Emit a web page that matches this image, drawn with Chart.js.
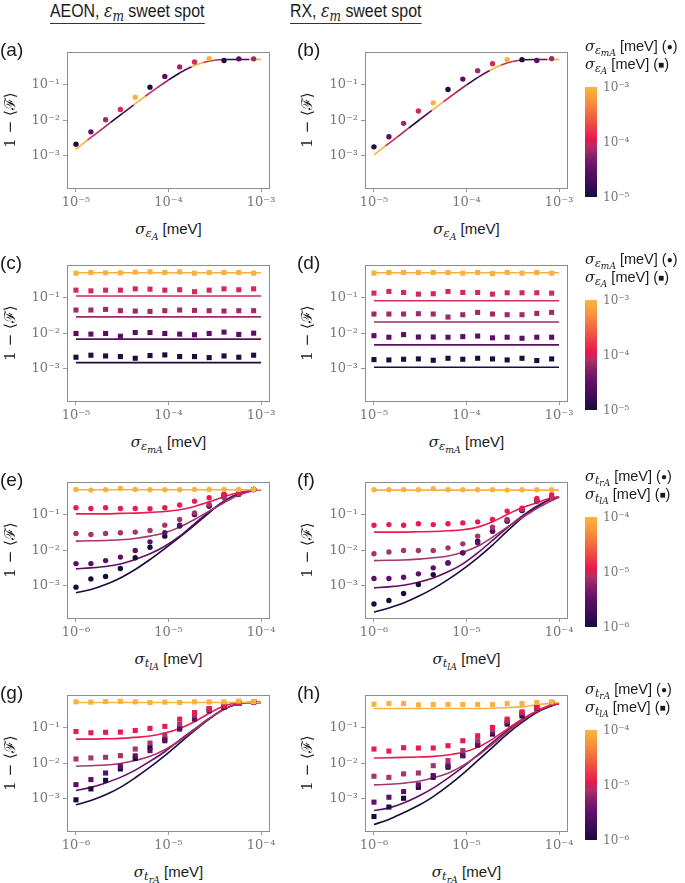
<!DOCTYPE html>
<html>
<head>
<meta charset="utf-8">
<script src="https://cdn.jsdelivr.net/npm/chart.js@4.4.1/dist/chart.umd.min.js"></script>
<style>
body { margin:0; background:#fff; width:685px; height:883px; position:relative; overflow:hidden;
  font-family:'Liberation Sans', Arial, sans-serif; color:#1a1a1a; }
canvas, .abs { position:absolute; }
.hdr { font-size:18.5px; transform:scaleX(0.86); transform-origin:0 0; border-bottom:1.5px solid #333; padding-bottom:1px; white-space:nowrap; }
.lab { font-size:19px; }
.m { font-family:'DejaVu Serif', serif; font-style:italic; }
sub { font-size:76%; vertical-align:-0.3em; line-height:0; }
sub sub { font-size:82%; vertical-align:-0.25em; }
.xt { font-size:15px; white-space:nowrap; transform:translate(-50%,-50%); }
.yt { font-family:'DejaVu Serif', serif; font-size:15px; white-space:nowrap; transform:translate(-50%,-50%) rotate(-90deg); }
.leg { font-size:14.5px; white-space:nowrap; }
.sym { font-size:10px; vertical-align:1px; }
.cb { width:12px; height:110px;
  background:linear-gradient(to top, #1a0b3c 0%, #3b0c5a 12%, #5e0f66 25%, #86206a 37%, #b52e63 46%,
    #e3194f 52%, #ec3a45 62%, #f26a3d 75%, #f7923e 87%, #fbb540 100%); }
.cbl { font-family:'DejaVu Serif', serif; font-size:12px; color:#777; transform:translateY(-50%); white-space:nowrap; }
</style>
</head>
<body>
<script>
// ---- data ----
const xDots5 = [1e-5,1.45e-5,2.09e-5,3.02e-5,4.37e-5,6.31e-5,9.12e-5,1.32e-4,1.91e-4,2.75e-4,3.98e-4,5.75e-4,8.32e-4];
const xDots6 = [1e-6,1.45e-6,2.09e-6,3.02e-6,4.37e-6,6.31e-6,9.12e-6,1.32e-5,1.91e-5,2.75e-5,3.98e-5,5.75e-5,8.32e-5];
const xCurve5 = [1e-5,1.33e-5,1.78e-5,2.37e-5,3.16e-5,4.22e-5,5.62e-5,7.5e-5,1e-4,1.33e-4,1.78e-4,2.37e-4,3.16e-4,4.22e-4,5.62e-4,7.5e-4,1e-3];
const xCurve6 = [1e-6,1.45e-6,2.09e-6,3.02e-6,4.37e-6,6.31e-6,9.12e-6,1.32e-5,1.91e-5,2.75e-5,3.98e-5,5.75e-5,8.32e-5,1e-4];
const xFlat5 = [1e-5, 1e-3];

const xTicks5 = [1e-5, 1e-4, 1e-3];
const xTicks6 = [1e-6, 1e-5, 1e-4];
const yTicks = [1e-3, 1e-2, 1e-1];
const cbTicks5 = ['10⁻³', '10⁻⁴', '10⁻⁵'];
const cbTicks6 = ['10⁻⁴', '10⁻⁵', '10⁻⁶'];

// (a)
const aDots = [2.13e-3,4.7e-3,1.03e-2,1.98e-2,4.4e-2,8.4e-2,0.168,0.31,0.425,0.53,0.47,0.52,0.52];
const aCurve = [1.55e-3,2.75e-3,4.88e-3,8.64e-3,1.53e-2,2.68e-2,4.67e-2,8.0e-2,0.133,0.212,0.312,0.413,0.478,0.498,0.5,0.5,0.5];
// (b)
const bDots = [1.79e-3,3.43e-3,8.15e-3,1.81e-2,3.05e-2,7.2e-2,0.141,0.243,0.382,0.495,0.495,0.47,0.53];
const bCurve = [1.07e-3,1.9e-3,3.37e-3,5.98e-3,1.06e-2,1.87e-2,3.27e-2,5.67e-2,9.63e-2,0.158,0.246,0.35,0.441,0.489,0.499,0.5,0.5];
// (c)  rows: yellow, red, magenta, purple, dark
const cYellow = [0.478,0.499,0.488,0.488,0.51,0.52,0.499,0.52,0.478,0.499,0.499,0.499,0.478];
const cRed = [0.160,0.153,0.160,0.160,0.174,0.171,0.160,0.164,0.145,0.160,0.174,0.164,0.174];
const cMagenta = [0.0444,0.0444,0.0463,0.0425,0.0416,0.0407,0.0425,0.0444,0.0434,0.0425,0.0416,0.0425,0.0425];
const cPurple = [0.0098,0.0094,0.0098,0.0082,0.0104,0.0104,0.0098,0.0094,0.0090,0.0098,0.0107,0.0092,0.0100];
const cDark = [2.12e-3,2.41e-3,2.30e-3,2.21e-3,1.98e-3,2.36e-3,2.46e-3,2.21e-3,2.21e-3,2.07e-3,2.30e-3,2.12e-3,2.41e-3];
const cLevels = [0.49, 0.11, 0.0286, 0.0068, 0.0015];
// (d)
const dYellow = [0.478,0.499,0.499,0.499,0.499,0.499,0.478,0.499,0.468,0.499,0.478,0.499,0.478];
const dRed = [0.132,0.147,0.138,0.124,0.127,0.147,0.138,0.138,0.124,0.135,0.135,0.135,0.132];
const dMagenta = [0.0343,0.0343,0.0343,0.0350,0.0343,0.0282,0.0328,0.0381,0.0343,0.0328,0.0328,0.0358,0.0381];
const dPurple = [0.0085,0.0077,0.0091,0.0078,0.0078,0.0077,0.0080,0.0083,0.0074,0.0077,0.0072,0.0077,0.0077];
const dDark = [1.82e-3,1.78e-3,1.86e-3,1.90e-3,1.74e-3,1.98e-3,1.86e-3,1.98e-3,1.90e-3,1.78e-3,1.98e-3,1.71e-3,1.90e-3];
const dLevels = [0.49, 0.081, 0.0205, 0.0047, 0.00111];
// (e)
const eYellow = [0.502,0.48,0.49,0.535,0.502,0.49,0.49,0.49,0.502,0.502,0.502,0.502,0.502];
const eRed = [0.154,0.147,0.154,0.147,0.147,0.144,0.154,0.183,0.236,0.293,0.364,0.40,0.50];
const eMagenta = [0.0293,0.0275,0.0293,0.0306,0.0320,0.0356,0.0502,0.0724,0.111,0.19,0.293,0.379,0.50];
const ePurple = [4.2e-3,4.2e-3,5.1e-3,6.4e-3,9.8e-3,0.0171,0.0306,0.0502,0.1,0.171,0.313,0.364,0.5];
const eDark = [9.2e-4,1.57e-3,1.83e-3,3.06e-3,6.1e-3,0.0121,0.0247,0.0471,0.1,0.171,0.364,0.379,0.5];
const eYellowC = [0.49,0.49,0.49,0.49,0.49,0.49,0.49,0.49,0.49,0.49,0.49,0.49,0.49,0.49];
const eRedC = [0.104,0.104,0.104,0.107,0.109,0.114,0.121,0.135,0.168,0.227,0.313,0.41,0.48,0.49];
const eMagentaC = [0.0179,0.0183,0.0187,0.0195,0.0212,0.0247,0.0306,0.0441,0.0724,0.124,0.212,0.348,0.46,0.49];
const ePurpleC = [3.0e-3,3.2e-3,3.5e-3,4.1e-3,5.5e-3,7.9e-3,0.0129,0.0247,0.0548,0.119,0.237,0.379,0.47,0.49];
const eDarkC = [6.4e-4,7.9e-4,1.09e-3,1.67e-3,2.87e-3,5.47e-3,0.0111,0.0231,0.0502,0.111,0.237,0.379,0.471,0.492];
// (f)
const fYellow = [0.49,0.49,0.49,0.49,0.53,0.49,0.49,0.49,0.49,0.48,0.49,0.49,0.49];
const fRed = [0.050,0.052,0.050,0.055,0.052,0.055,0.058,0.062,0.072,0.124,0.15,0.28,0.36];
const fMagenta = [7.9e-3,8.9e-3,9.8e-3,9.8e-3,9.8e-3,0.0116,0.015,0.0247,0.0441,0.0724,0.138,0.237,0.3];
const fPurple = [1.61e-3,1.61e-3,1.75e-3,2.17e-3,3.2e-3,4.4e-3,8.4e-3,0.0161,0.0341,0.0679,0.129,0.237,0.3];
const fDark = [3.1e-4,3.9e-4,6.1e-4,1.09e-3,2.07e-3,4.4e-3,8.4e-3,0.0179,0.0341,0.065,0.129,0.237,0.3];
const fYellowC = [0.48,0.48,0.48,0.48,0.48,0.48,0.48,0.48,0.48,0.48,0.48,0.48,0.48,0.48];
const fRedC = [0.032,0.032,0.032,0.0327,0.0334,0.0349,0.0372,0.0441,0.0623,0.1,0.154,0.212,0.293,0.306];
const fMagentaC = [5.1e-3,5.2e-3,5.3e-3,5.6e-3,6.1e-3,6.9e-3,8.8e-3,0.0129,0.0231,0.0441,0.0806,0.147,0.243,0.306];
const fPurpleC = [8.8e-4,9.4e-4,1.04e-3,1.27e-3,1.67e-3,2.47e-3,4.15e-3,8.4e-3,0.0187,0.0423,0.0898,0.171,0.275,0.306];
const fDarkC = [1.83e-4,2.4e-4,3.3e-4,5.1e-4,8.4e-4,1.5e-3,2.9e-3,6.1e-3,0.0138,0.0341,0.0806,0.16,0.275,0.306];
// (g)
const gYellow = [0.52,0.51,0.53,0.54,0.52,0.50,0.51,0.50,0.52,0.52,0.52,0.55,0.53];
const gRed = [0.077,0.071,0.073,0.074,0.082,0.094,0.107,0.171,0.262,0.34,0.42,0.48,0.52];
const gMagenta = [0.0131,0.014,0.0146,0.0162,0.0248,0.0365,0.061,0.124,0.22,0.32,0.40,0.47,0.52];
const gPurple = [2.5e-3,3.47e-3,5.3e-3,8.2e-3,0.016,0.0224,0.0424,0.0898,0.171,0.291,0.38,0.47,0.52];
const gDark = [9.4e-4,1.9e-3,3.3e-3,6.9e-3,0.0135,0.0277,0.0472,0.1,0.19,0.325,0.37,0.47,0.52];
const gYellowC = [0.5,0.5,0.5,0.5,0.5,0.5,0.5,0.5,0.5,0.5,0.5,0.5,0.5,0.5];
const gRedC = [0.0472,0.0472,0.0482,0.0493,0.0526,0.0573,0.0695,0.0938,0.144,0.251,0.40,0.49,0.5,0.5];
const gMagentaC = [8.2e-3,8.5e-3,8.9e-3,9.8e-3,0.0118,0.0155,0.0238,0.0424,0.086,0.178,0.325,0.46,0.5,0.5];
const gPurpleC = [1.71e-3,2.1e-3,2.8e-3,4.0e-3,6.4e-3,0.0113,0.0209,0.0443,0.0898,0.178,0.325,0.46,0.5,0.5];
const gDarkC = [6.8e-4,9.0e-4,1.3e-3,2.1e-3,3.9e-3,7.7e-3,0.0162,0.0365,0.081,0.171,0.325,0.46,0.5,0.5];
// (h)
const hYellow = [0.448,0.466,0.466,0.43,0.44,0.44,0.44,0.44,0.44,0.466,0.466,0.50,0.52];
const hRed = [0.0248,0.0218,0.0271,0.0265,0.0265,0.0308,0.0424,0.0585,0.1,0.171,0.262,0.36,0.48];
const hMagenta = [4.3e-3,4.0e-3,5.0e-3,5.3e-3,8.5e-3,0.0118,0.0224,0.0424,0.086,0.153,0.273,0.36,0.48];
const hPurple = [8.1e-4,1.11e-3,1.6e-3,2.46e-3,4.5e-3,8.5e-3,0.0162,0.0343,0.0726,0.138,0.236,0.35,0.48];
const hDark = [3.2e-4,5.9e-4,1.04e-3,2.1e-3,4.0e-3,7.7e-3,0.0162,0.0322,0.0652,0.124,0.21,0.35,0.48];
const hYellowC = [0.339,0.339,0.339,0.339,0.339,0.339,0.339,0.339,0.345,0.36,0.377,0.43,0.48,0.5];
const hRedC = [0.0139,0.0142,0.0145,0.0149,0.0155,0.0169,0.0201,0.0277,0.0472,0.0898,0.171,0.291,0.43,0.47];
const hMagentaC = [2.46e-3,2.57e-3,2.75e-3,3.1e-3,3.9e-3,5.2e-3,8.5e-3,0.0162,0.0343,0.0726,0.153,0.279,0.42,0.47];
const hPurpleC = [4.7e-4,5.6e-4,7.7e-4,1.19e-3,2.0e-3,3.8e-3,7.7e-3,0.0169,0.0381,0.081,0.16,0.279,0.42,0.47];
const hDarkC = [1.92e-4,2.65e-4,4.1e-4,6.5e-4,1.16e-3,2.3e-3,5.0e-3,0.0118,0.0277,0.0652,0.138,0.262,0.40,0.47];

// ---- styling ----
const P1 = {dark:'#1c0c3f', purple:'#5b0f64', magenta:'#9e2b69', red:'#d32a5a', yellow:'#f9b13e'};
const P2 = {dark:'#1a0b3b', purple:'#5f0d66', magenta:'#a5356b', red:'#ea1a50', yellow:'#f8b33f'};
const cycle = [P1.dark, P1.purple, P1.magenta, P1.red, P1.yellow];
const lineCycle = [P1.yellow, P1.red, P1.magenta, P1.dark, P1.purple];
const Y_MIN = 1.26e-4, Y_MAX = 0.81;
const X5 = [8.0e-6, 1.25e-3], X6 = [8.0e-7, 1.25e-4];
const BW = 203, BH = 136;

const SUP = {'-':'⁻','0':'⁰','1':'¹','2':'²','3':'³','4':'⁴','5':'⁵','6':'⁶','7':'⁷','8':'⁸','9':'⁹'};
function pow10(v) {
  const e = String(Math.round(Math.log10(v)));
  return '10' + e.split('').map(c => SUP[c]).join('');
}
function pts(xs, ys) { return xs.map((x, i) => ({x: x, y: ys[i]})); }

function dots(xs, ys, color, style) {
  return { data: pts(xs, ys), showLine: false, pointStyle: style,
    pointRadius: style === 'rect' ? 3.6 : 2.7, pointBackgroundColor: color,
    pointBorderWidth: 0, order: 0 };
}
function curve(xs, ys, color) {
  return { data: pts(xs, ys), showLine: true, pointRadius: 0, borderColor: color,
    borderWidth: 1.6, cubicInterpolationMode: 'monotone', order: 1 };
}

const frame = {
  id: 'frame',
  afterDraw(chart) {
    const a = chart.chartArea, c = chart.ctx;
    c.save();
    c.strokeStyle = '#8c8c8c';
    c.lineWidth = 1;
    c.strokeRect(Math.round(a.left) + 0.5, Math.round(a.top) + 0.5, Math.round(a.right - a.left) - 1, Math.round(a.bottom - a.top));
    c.restore();
  }
};

function axis(range, ticks, isX) {
  return {
    type: 'logarithmic', min: range[0], max: range[1],
    afterBuildTicks: s => { s.ticks = ticks.map(v => ({value: v})); },
    afterFit: s => {
      if (isX) { s.height = 30; s.paddingLeft = 0; s.paddingRight = 0; }
      else { s.width = 67; s.paddingTop = 0; s.paddingBottom = 0; }
    },
    ticks: { callback: v => pow10(v), autoSkip: false, maxRotation: 0, minRotation: 0,
      color: '#777', font: {family: 'DejaVu Serif', size: 13}, padding: 3 },
    grid: { display: true, drawOnChartArea: false, drawTicks: true, tickLength: 4, color: '#999' },
    border: { display: false }
  };
}

function panel(bx, by, xr, xt, datasets) {
  const cv = document.createElement('canvas');
  cv.width = 286; cv.height = 174;
  cv.style.left = (bx - 67) + 'px';
  cv.style.top = (by - 8) + 'px';
  document.body.appendChild(cv);
  new Chart(cv, {
    type: 'scatter',
    data: { datasets: datasets },
    options: {
      responsive: false, animation: false, devicePixelRatio: 1,
      layout: { padding: {top: 8, right: 16, left: 0, bottom: 0} },
      plugins: { legend: {display: false}, tooltip: {enabled: false} },
      scales: { x: axis(xr, xt, true), y: axis([Y_MIN, Y_MAX], yTicks, false) }
    },
    plugins: [frame]
  });
}

function rows(xd, xc, d, c, P, style) {
  // d, c: [yellow, red, magenta, purple, dark]
  const cols = [P.yellow, P.red, P.magenta, P.purple, P.dark];
  const out = [];
  cols.forEach((col, i) => { out.push(curve(xc, c[i], col)); });
  cols.forEach((col, i) => { out.push(dots(xd, d[i], col, style)); });
  return out;
}

// (a) and (b): colour-cycled dots and curve
function sweep(dotsY, curveY) {
  const ln = curve(xCurve5, curveY, P1.dark);
  ln.segment = { borderColor: ctx => lineCycle[ctx.p0DataIndex % 5] };
  const dt = dots(xDots5, dotsY, xDots5.map((_, i) => cycle[i % 5]), 'circle');
  return [ln, dt];
}

const L = 67, R = 365;
const T = [52, 265, 482, 695];

panel(L, T[0], X5, xTicks5, sweep(aDots, aCurve));
panel(R, T[0], X5, xTicks5, sweep(bDots, bCurve));

function flat(levels) { return levels.map(v => [v, v]); }
panel(L, T[1], X5, xTicks5, rows(xDots5, xFlat5, [cYellow, cRed, cMagenta, cPurple, cDark], flat(cLevels), P1, 'rect'));
panel(R, T[1], X5, xTicks5, rows(xDots5, xFlat5, [dYellow, dRed, dMagenta, dPurple, dDark], flat(dLevels), P1, 'rect'));

panel(L, T[2], X6, xTicks6, rows(xDots6, xCurve6, [eYellow, eRed, eMagenta, ePurple, eDark], [eYellowC, eRedC, eMagentaC, ePurpleC, eDarkC], P2, 'circle'));
panel(R, T[2], X6, xTicks6, rows(xDots6, xCurve6, [fYellow, fRed, fMagenta, fPurple, fDark], [fYellowC, fRedC, fMagentaC, fPurpleC, fDarkC], P2, 'circle'));

panel(L, T[3], X6, xTicks6, rows(xDots6, xCurve6, [gYellow, gRed, gMagenta, gPurple, gDark], [gYellowC, gRedC, gMagentaC, gPurpleC, gDarkC], P2, 'rect'));
panel(R, T[3], X6, xTicks6, rows(xDots6, xCurve6, [hYellow, hRed, hMagenta, hPurple, hDark], [hYellowC, hRedC, hMagentaC, hPurpleC, hDarkC], P2, 'rect'));

// ---- text overlays ----
function put(cls, x, y, html) {
  const d = document.createElement('div');
  d.className = 'abs ' + cls;
  d.style.left = x + 'px'; d.style.top = y + 'px';
  d.innerHTML = html;
  document.body.appendChild(d);
}
const sig = s => '<span class="m">σ</span><sub>' + s + '</sub>';
const epsA = sig('<span class="m">ε</span><sub><span class="m">A</span></sub>');
const epsMA = sig('<span class="m">ε</span><sub><span class="m">mA</span></sub>');
const tlA = sig('<span class="m">t</span><sub><span class="m">lA</span></sub>');
const trA = sig('<span class="m">t</span><sub><span class="m">rA</span></sub>');

put('hdr', 50, 0, 'AEON, <span class="m">ε</span><sub><span class="m">m</span></sub> sweet spot');
put('hdr', 290, 0, 'RX, <span class="m">ε</span><sub><span class="m">m</span></sub> sweet spot');

const labels = [['(a)','(b)'],['(c)','(d)'],['(e)','(f)'],['(g)','(h)']];
const xTitles = [epsA, epsMA, tlA, trA];
const legs = [[epsMA, epsA], [epsMA, epsA], [trA, tlA], [trA, tlA]];
const cbs = [cbTicks5, cbTicks5, cbTicks6, cbTicks6];
T.forEach((t, r) => {
  put('lab', 0, t - 13, labels[r][0]);
  put('lab', 297, t - 13, labels[r][1]);
  put('yt', 9, t + BH / 2, '1 − ⟨<span style="font-family:\'DejaVu Serif\'">ℱ</span>⟩');
  put('yt', 306, t + BH / 2, '1 − ⟨<span style="font-family:\'DejaVu Serif\'">ℱ</span>⟩');
  put('xt', L + BW / 2, t + BH + 41, xTitles[r] + ' [meV]');
  put('xt', R + BW / 2, t + BH + 41, xTitles[r] + ' [meV]');
  put('leg', 585, t - 14, legs[r][0] + ' [meV] (<span class="sym">●</span>)');
  put('leg', 585, t + 4, legs[r][1] + ' [meV] (<span class="sym">■</span>)');
  put('cb', 585, t + 35, '');
  put('cbl', 603, t + 35, cbs[r][0]);
  put('cbl', 603, t + 90, cbs[r][1]);
  put('cbl', 603, t + 145, cbs[r][2]);
});
</script>
</body>
</html>
